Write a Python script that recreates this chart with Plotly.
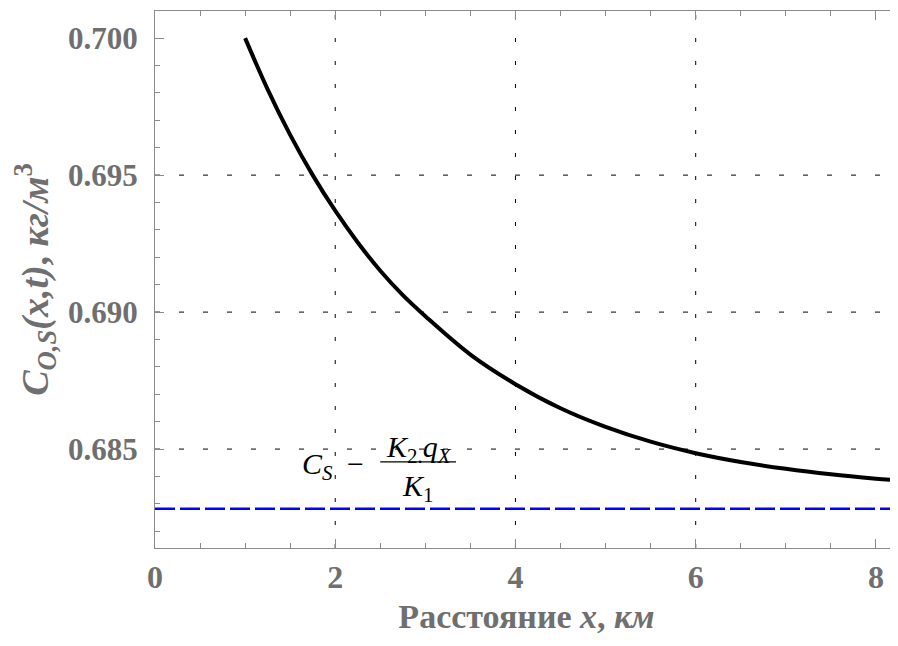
import plotly.graph_objects as go

# ---- data ----
x_km = [1.0, 1.25, 1.5, 1.75, 2.0, 2.25, 2.5, 2.75, 3.0, 3.5, 4.0, 4.5, 5.0, 5.5, 6.0, 6.5, 7.0, 7.5, 8.0, 8.26]
c_vals = [0.70000, 0.69813, 0.69647, 0.69500, 0.69370, 0.69254, 0.69151, 0.69062, 0.68985, 0.68845,
          0.68737, 0.68649, 0.68581, 0.68527, 0.68485, 0.68453, 0.68428, 0.68408, 0.68392, 0.68385]
asym_x = [0.0, 8.26]
asym_level = 0.68282
x_grid = [2, 4, 6]
y_grid = [0.685, 0.690, 0.695]
x_ticks = [0, 2, 4, 6, 8]
x_tick_text = ["0", "2", "4", "6", "8"]
y_ticks = [0.685, 0.690, 0.695, 0.700]
y_tick_text = ["0.685", "0.690", "0.695", "0.700"]
x_range = [0, 8.245]
y_range = [0.68139, 0.70099]

GRAY = "#6f6f6f"
AXC = "#8a8a8a"
SERIF = "Liberation Serif"

fig = go.Figure()

fig.add_trace(go.Scatter(x=asym_x, y=[asym_level] * len(asym_x), mode="lines",
                         line=dict(color="#0000ff", width=2.6, dash="20px,5px"),
                         hoverinfo="skip", showlegend=False))
fig.add_trace(go.Scatter(x=x_km, y=c_vals, mode="lines",
                         line=dict(color="black", width=4, shape="spline", smoothing=1.0),
                         showlegend=False))

shapes = []
for gx in x_grid:
    shapes.append(dict(type="line", xref="x", yref="paper", x0=gx, x1=gx, y0=0, y1=1,
                       line=dict(color="black", width=1, dash="4px,19px"), layer="below"))
for gy in y_grid:
    shapes.append(dict(type="line", xref="paper", yref="y", x0=0, x1=1, y0=gy, y1=gy,
                       line=dict(color="black", width=1, dash="5px,19px"), layer="below"))
# fraction bar of the formula
shapes.append(dict(type="line", xref="x", yref="y", x0=2.50, x1=3.34, y0=0.68453, y1=0.68453,
                   line=dict(color="black", width=1.3)))

FF = dict(family=SERIF, size=30, color="black")
annots = [
    dict(x=1.80, y=0.68438, xref="x", yref="y", xanchor="center", yanchor="middle",
         text="<i>C</i><sub><i>S</i></sub>", showarrow=False, font=FF),
    dict(x=2.225, y=0.68449, xref="x", yref="y", xanchor="center", yanchor="middle",
         text="\u2212", showarrow=False, font=FF),
    dict(x=2.925, y=0.68502, xref="x", yref="y", xanchor="center", yanchor="middle",
         text="<i>K</i><sub>2.</sub><i>q</i><sub><i>X</i></sub>", showarrow=False, font=FF),
    dict(x=2.914, y=0.68357, xref="x", yref="y", xanchor="center", yanchor="middle",
         text="<i>K</i><sub>1</sub>", showarrow=False, font=FF),
]

fig.update_layout(
    width=890, height=638,
    margin=dict(l=147, r=0, t=3, b=98),
    paper_bgcolor="white", plot_bgcolor="white",
    shapes=shapes, annotations=annots,
    xaxis=dict(range=x_range, tickvals=x_ticks, ticktext=x_tick_text,
               showgrid=False, zeroline=False,
               showline=True, linecolor=AXC, linewidth=1.2, mirror="ticks",
               ticks="inside", ticklen=9, tickcolor=AXC, tickwidth=1.2,
               minor=dict(dtick=0.5, ticks="inside", ticklen=5, tickcolor=AXC, showgrid=False),
               tickfont=dict(family=SERIF, size=32, color=GRAY, weight="bold"),
               ticklabelstandoff=0,
               title=dict(text="Расстояние <i>x</i>, <i>км</i>", standoff=10,
                          font=dict(family=SERIF, size=34, color=GRAY, weight="bold"))),
    yaxis=dict(range=y_range, tickvals=y_ticks, ticktext=y_tick_text,
               showgrid=False, zeroline=False,
               showline=True, linecolor=AXC, linewidth=1.2, mirror=False,
               ticks="inside", ticklen=9, tickcolor=AXC, tickwidth=1.2,
               minor=dict(dtick=0.001, ticks="inside", ticklen=5, tickcolor=AXC, showgrid=False),
               tickfont=dict(family=SERIF, size=31, color=GRAY, weight="bold"),
               ticklabelstandoff=10,
               title=dict(text="<i>C</i><sub><i>O,S</i></sub><i>(x,t)</i>, <i>кг/м</i><sup>3</sup>",
                          standoff=16,
                          font=dict(family=SERIF, size=38, color=GRAY, weight="bold"))),
)

fig.write_html("out.html")
